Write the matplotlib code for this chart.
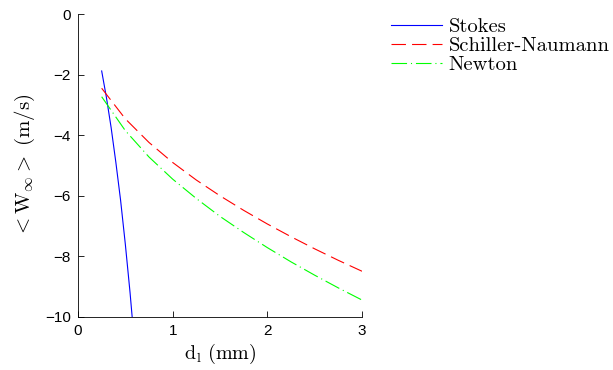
import matplotlib
matplotlib.use("Agg")
import matplotlib.pyplot as plt

# Data
d_stokes = [0.25, 0.3, 0.35, 0.4, 0.45, 0.5, 0.55, 0.6]
w_stokes = [-1.88, -2.75, -3.75, -4.9, -6.15, -7.6, -9.2, -11.0]
d_mm = [0.25, 0.5, 0.75, 1.0, 1.25, 1.5, 1.75, 2.0, 2.25, 2.5, 2.75, 3.0]
w_schiller = [-2.45, -3.46, -4.24, -4.9, -5.48, -6.0, -6.48, -6.93, -7.35, -7.75, -8.13, -8.49]
w_newton = [-2.73, -3.85, -4.72, -5.45, -6.09, -6.68, -7.21, -7.71, -8.18, -8.62, -9.04, -9.44]
series_labels = ["Stokes", "Schiller-Naumann", "Newton"]
xticks = [0, 1, 2, 3]
yticks = [0, -2, -4, -6, -8, -10]

plt.rcParams['mathtext.fontset'] = 'cm'
plt.rcParams['font.family'] = ['Liberation Sans', 'DejaVu Sans']

fig = plt.figure(figsize=(6.13, 3.70), dpi=100)
ax = fig.add_axes([78/613, 1-317/370, (362-78)/613, (317-14)/370])

lw = 0.8
ax.plot(d_stokes, w_stokes, color=(0, 0, 1), lw=lw, label=series_labels[0])
ax.plot(d_mm, w_schiller, color=(1, 0, 0), lw=lw, dashes=(13, 5.5),
        label=series_labels[1])
ax.plot(d_mm, w_newton, color=(0, 1, 0), lw=lw, dashes=(14, 3.5, 1, 3.5),
        label=series_labels[2])

ax.set_xlim(0, 3)
ax.set_ylim(-10, 0)
ax.set_xticks(xticks)
ax.set_yticks(yticks)
ax.set_xticklabels([str(t) for t in xticks])
ax.set_yticklabels([str(t).replace('-', '\u2212') for t in yticks])
ax.tick_params(direction='in', length=4, width=0.6, labelsize=11, pad=5)
for s in ['top', 'right']:
    ax.spines[s].set_visible(False)
for s in ['left', 'bottom']:
    ax.spines[s].set_linewidth(0.6)

ax.set_xlabel(r'$\mathrm{d_l\ (mm)}$', fontsize=14.5, labelpad=3)
ax.set_ylabel(r'$<\mathrm{W}_{\infty}>\ \mathrm{(m/s)}$', fontsize=15, labelpad=6)

leg = fig.legend(loc='upper left', bbox_to_anchor=(391/613, 1-18/370), frameon=False,
                 prop={'family': 'cmr10', 'size': 14.8}, handlelength=2.5,
                 handletextpad=0.3, labelspacing=0.02, borderaxespad=0, borderpad=0)

fig.savefig('out.png', dpi=100)
